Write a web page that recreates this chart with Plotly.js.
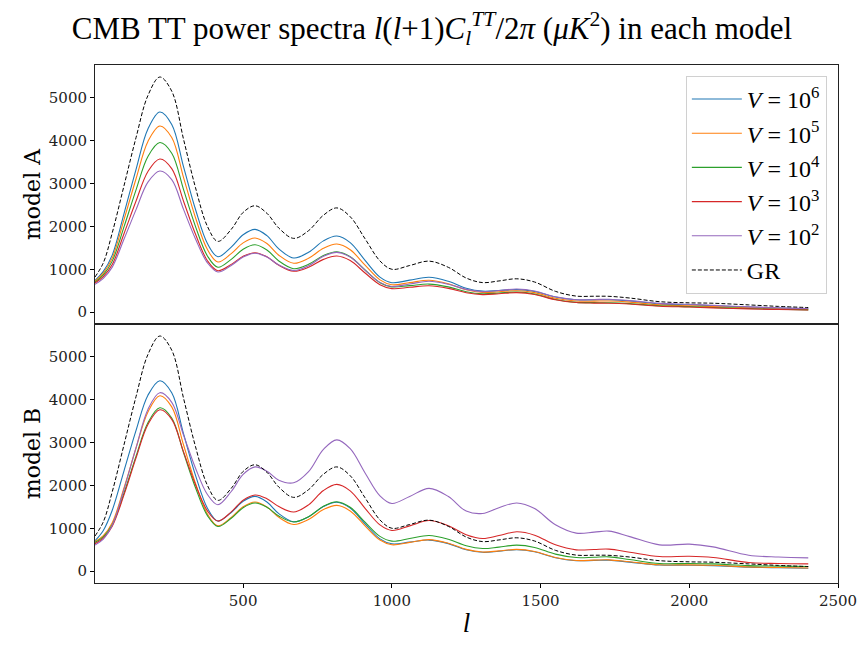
<!DOCTYPE html>
<html>
<head>
<meta charset="utf-8">
<script src="https://cdn.plot.ly/plotly-3.0.1.min.js"></script>
<style>
  html, body { margin: 0; padding: 0; background: #fff; }
  #chart { width: 864px; height: 648px; }
</style>
</head>
<body>
<div id="chart"></div>
<script>
// multipole l sampled at the peaks, troughs and a few points between
const ells = [2, 30, 60, 100, 140, 180, 220, 260, 300, 340, 380, 415, 460, 500, 540, 580, 620, 670, 720, 770, 815, 860, 910, 960, 1000, 1060, 1125, 1190, 1250, 1305, 1360, 1420, 1480, 1550, 1620, 1680, 1730, 1800, 1900, 2000, 2080, 2200, 2300, 2400];

// GR reference, same in both panels
const gr = [820, 1150, 1850, 2960, 4070, 5050, 5480, 5150, 4020, 2900, 2000, 1650, 1930, 2325, 2480, 2305, 1960, 1720, 1900, 2260, 2430, 2225, 1710, 1195, 1000, 1088, 1190, 1045, 796, 690, 728, 778, 703, 486, 375, 372, 370, 330, 245, 218, 209, 170, 135, 108];

const labels = ["<i>V</i> = 10<sup>6</sup>", "<i>V</i> = 10<sup>5</sup>", "<i>V</i> = 10<sup>4</sup>", "<i>V</i> = 10<sup>3</sup>", "<i>V</i> = 10<sup>2</sup>"];

// model A, V = 1e6 .. 1e2
const a_v6 = [740, 950, 1330, 2310, 3330, 4270, 4665, 4375, 3380, 2392, 1600, 1293, 1516, 1803, 1930, 1783, 1476, 1263, 1396, 1662, 1774, 1622, 1209, 818, 688, 747, 814, 720, 559, 490, 505, 525, 482, 355, 290, 288, 290, 265, 195, 175, 150, 120, 98, 80];
const a_v5 = [720, 910, 1260, 2170, 3110, 3980, 4340, 4070, 3130, 2200, 1460, 1170, 1365, 1616, 1728, 1599, 1328, 1140, 1256, 1489, 1588, 1455, 1095, 754, 640, 689, 745, 662, 521, 460, 477, 500, 456, 326, 260, 258, 260, 235, 170, 150, 130, 105, 85, 70];
const a_v4 = [700, 870, 1190, 2000, 2850, 3630, 3955, 3705, 2850, 1995, 1310, 1047, 1231, 1467, 1572, 1449, 1193, 1014, 1117, 1322, 1409, 1294, 983, 688, 590, 620, 655, 590, 478, 430, 448, 470, 425, 295, 230, 222, 220, 200, 150, 130, 110, 85, 68, 55];
const a_v3 = [680, 830, 1110, 1840, 2590, 3280, 3570, 3345, 2580, 1815, 1200, 967, 1114, 1302, 1386, 1291, 1092, 953, 1046, 1231, 1309, 1203, 914, 641, 550, 580, 615, 556, 454, 410, 430, 455, 413, 290, 225, 212, 210, 190, 140, 120, 100, 78, 62, 50];
const a_v2 = [650, 790, 1050, 1710, 2390, 3030, 3290, 3090, 2390, 1705, 1150, 937, 1089, 1285, 1372, 1284, 1099, 970, 1081, 1302, 1395, 1284, 982, 695, 600, 656, 720, 650, 531, 480, 506, 540, 494, 358, 290, 295, 300, 270, 205, 185, 160, 125, 100, 85];

// model B, V = 1e6 .. 1e2
const b_v6 = [710, 950, 1420, 2350, 3280, 4100, 4439, 4158, 3193, 2234, 1466, 1168, 1369, 1628, 1743, 1613, 1341, 1152, 1270, 1505, 1605, 1470, 1102, 754, 638, 678, 725, 642, 501, 440, 466, 500, 453, 315, 245, 252, 258, 212, 143, 140, 130, 95, 80, 68];
const b_v5 = [690, 830, 1130, 1950, 2870, 3710, 4089, 3828, 2934, 2046, 1334, 1058, 1252, 1501, 1612, 1497, 1256, 1089, 1204, 1435, 1533, 1404, 1056, 725, 615, 671, 735, 651, 508, 446, 473, 508, 460, 321, 250, 258, 265, 219, 150, 148, 137, 100, 86, 75];
const b_v4 = [670, 800, 1080, 1830, 2680, 3460, 3808, 3570, 2754, 1944, 1294, 1042, 1233, 1480, 1589, 1491, 1287, 1145, 1268, 1515, 1619, 1490, 1142, 811, 701, 762, 832, 744, 593, 528, 562, 607, 554, 398, 318, 326, 334, 271, 178, 180, 170, 130, 118, 108];
const b_v3 = [640, 770, 1050, 1790, 2640, 3420, 3762, 3539, 2774, 2014, 1404, 1168, 1381, 1654, 1776, 1689, 1506, 1379, 1546, 1881, 2023, 1873, 1465, 1078, 949, 1056, 1180, 1059, 851, 762, 830, 918, 840, 614, 498, 506, 514, 443, 341, 348, 320, 201, 180, 171];
const b_v2 = [610, 750, 1070, 1920, 2880, 3770, 4159, 3935, 3165, 2400, 1787, 1549, 1857, 2254, 2430, 2330, 2120, 2060, 2320, 2840, 3061, 2854, 2290, 1757, 1579, 1742, 1930, 1740, 1400, 1345, 1480, 1589, 1459, 1081, 888, 910, 934, 806, 614, 631, 566, 373, 330, 311];

const COLORS = ["#1f77b4", "#ff7f0e", "#2ca02c", "#d62728", "#9467bd"];
const SERIF = "DejaVu Serif, serif";
const TITLE_SERIF = "Liberation Serif, serif";

function curve(y, i, panel) {
  return {
    x: ells,
    y,
    type: "scatter",
    mode: "lines",
    line: { color: COLORS[i], width: 1.1, shape: "spline", smoothing: 1 },
    name: labels[i],
    showlegend: panel === 1,
    xaxis: panel === 1 ? "x" : "x2",
    yaxis: panel === 1 ? "y" : "y2",
    hoverinfo: "skip",
  };
}

function grCurve(panel) {
  return {
    x: ells,
    y: gr,
    type: "scatter",
    mode: "lines",
    line: { color: "#000000", width: 1, dash: "4px,2px", shape: "spline", smoothing: 1 },
    name: "GR",
    showlegend: panel === 1,
    xaxis: panel === 1 ? "x" : "x2",
    yaxis: panel === 1 ? "y" : "y2",
    hoverinfo: "skip",
  };
}

const traces = [
  curve(a_v6, 0, 1), curve(a_v5, 1, 1), curve(a_v4, 2, 1), curve(a_v3, 3, 1), curve(a_v2, 4, 1), grCurve(1),
  curve(b_v6, 0, 2), curve(b_v5, 1, 2), curve(b_v4, 2, 2), curve(b_v3, 3, 2), curve(b_v2, 4, 2), grCurve(2),
];

const yBase = {
  range: [-275, 5760],
  dtick: 1000,
  tick0: 0,
  ticks: "outside",
  ticklen: 4,
  tickcolor: "#000",
  showline: true,
  linecolor: "#222",
  linewidth: 1,
  mirror: true,
  showgrid: false,
  zeroline: false,
  tickfont: { family: SERIF, size: 15, color: "#222" },
  automargin: false,
};

const layout = {
  width: 864,
  height: 648,
  paper_bgcolor: "#fff",
  plot_bgcolor: "#fff",
  margin: { l: 95, r: 26, t: 65, b: 65 },
  title: {
    text: "CMB TT power spectra <i>l</i>(<i>l</i>+1)<i>C</i><sub><i>l</i></sub><sup><i>TT</i></sup>/2<i>π</i> (<i>μK</i><sup>2</sup>) in each model",
    font: { family: TITLE_SERIF, size: 31, color: "#000" },
    x: 0.5,
    xref: "container",
    xanchor: "center",
    y: 0.957,
    yref: "container",
    yanchor: "middle",
  },
  xaxis: {
    domain: [0, 1],
    anchor: "y",
    range: [2, 2500],
    showticklabels: false,
    ticks: "",
    showline: true,
    linecolor: "#222",
    linewidth: 1,
    mirror: true,
    showgrid: false,
    zeroline: false,
  },
  xaxis2: {
    domain: [0, 1],
    anchor: "y2",
    matches: "x",
    range: [2, 2500],
    dtick: 500,
    tick0: 0,
    ticks: "outside",
    ticklen: 4,
    tickcolor: "#000",
    showline: true,
    linecolor: "#222",
    linewidth: 1,
    mirror: true,
    showgrid: false,
    zeroline: false,
    tickfont: { family: SERIF, size: 15, color: "#222" },
    title: { text: "<i>l</i>", font: { family: TITLE_SERIF, size: 27, color: "#000" }, standoff: 4 },
    automargin: false,
  },
  yaxis: Object.assign({}, yBase, {
    domain: [0.5, 1],
    anchor: "x",
    title: { text: "model A", font: { family: SERIF, size: 22, color: "#000" }, standoff: 2 },
  }),
  yaxis2: Object.assign({}, yBase, {
    domain: [0, 0.5],
    anchor: "x2",
    title: { text: "model B", font: { family: SERIF, size: 22, color: "#000" }, standoff: 2 },
  }),
  legend: {
    x: 0.985,
    xanchor: "right",
    y: 0.979,
    yanchor: "top",
    bgcolor: "rgba(255,255,255,0.8)",
    bordercolor: "#d0d0d0",
    borderwidth: 1,
    itemwidth: 50,
    font: { family: TITLE_SERIF, size: 24, color: "#000" },
  },
  showlegend: true,
};

Plotly.newPlot("chart", traces, layout, { staticPlot: true, displayModeBar: false });
</script>
</body>
</html>
